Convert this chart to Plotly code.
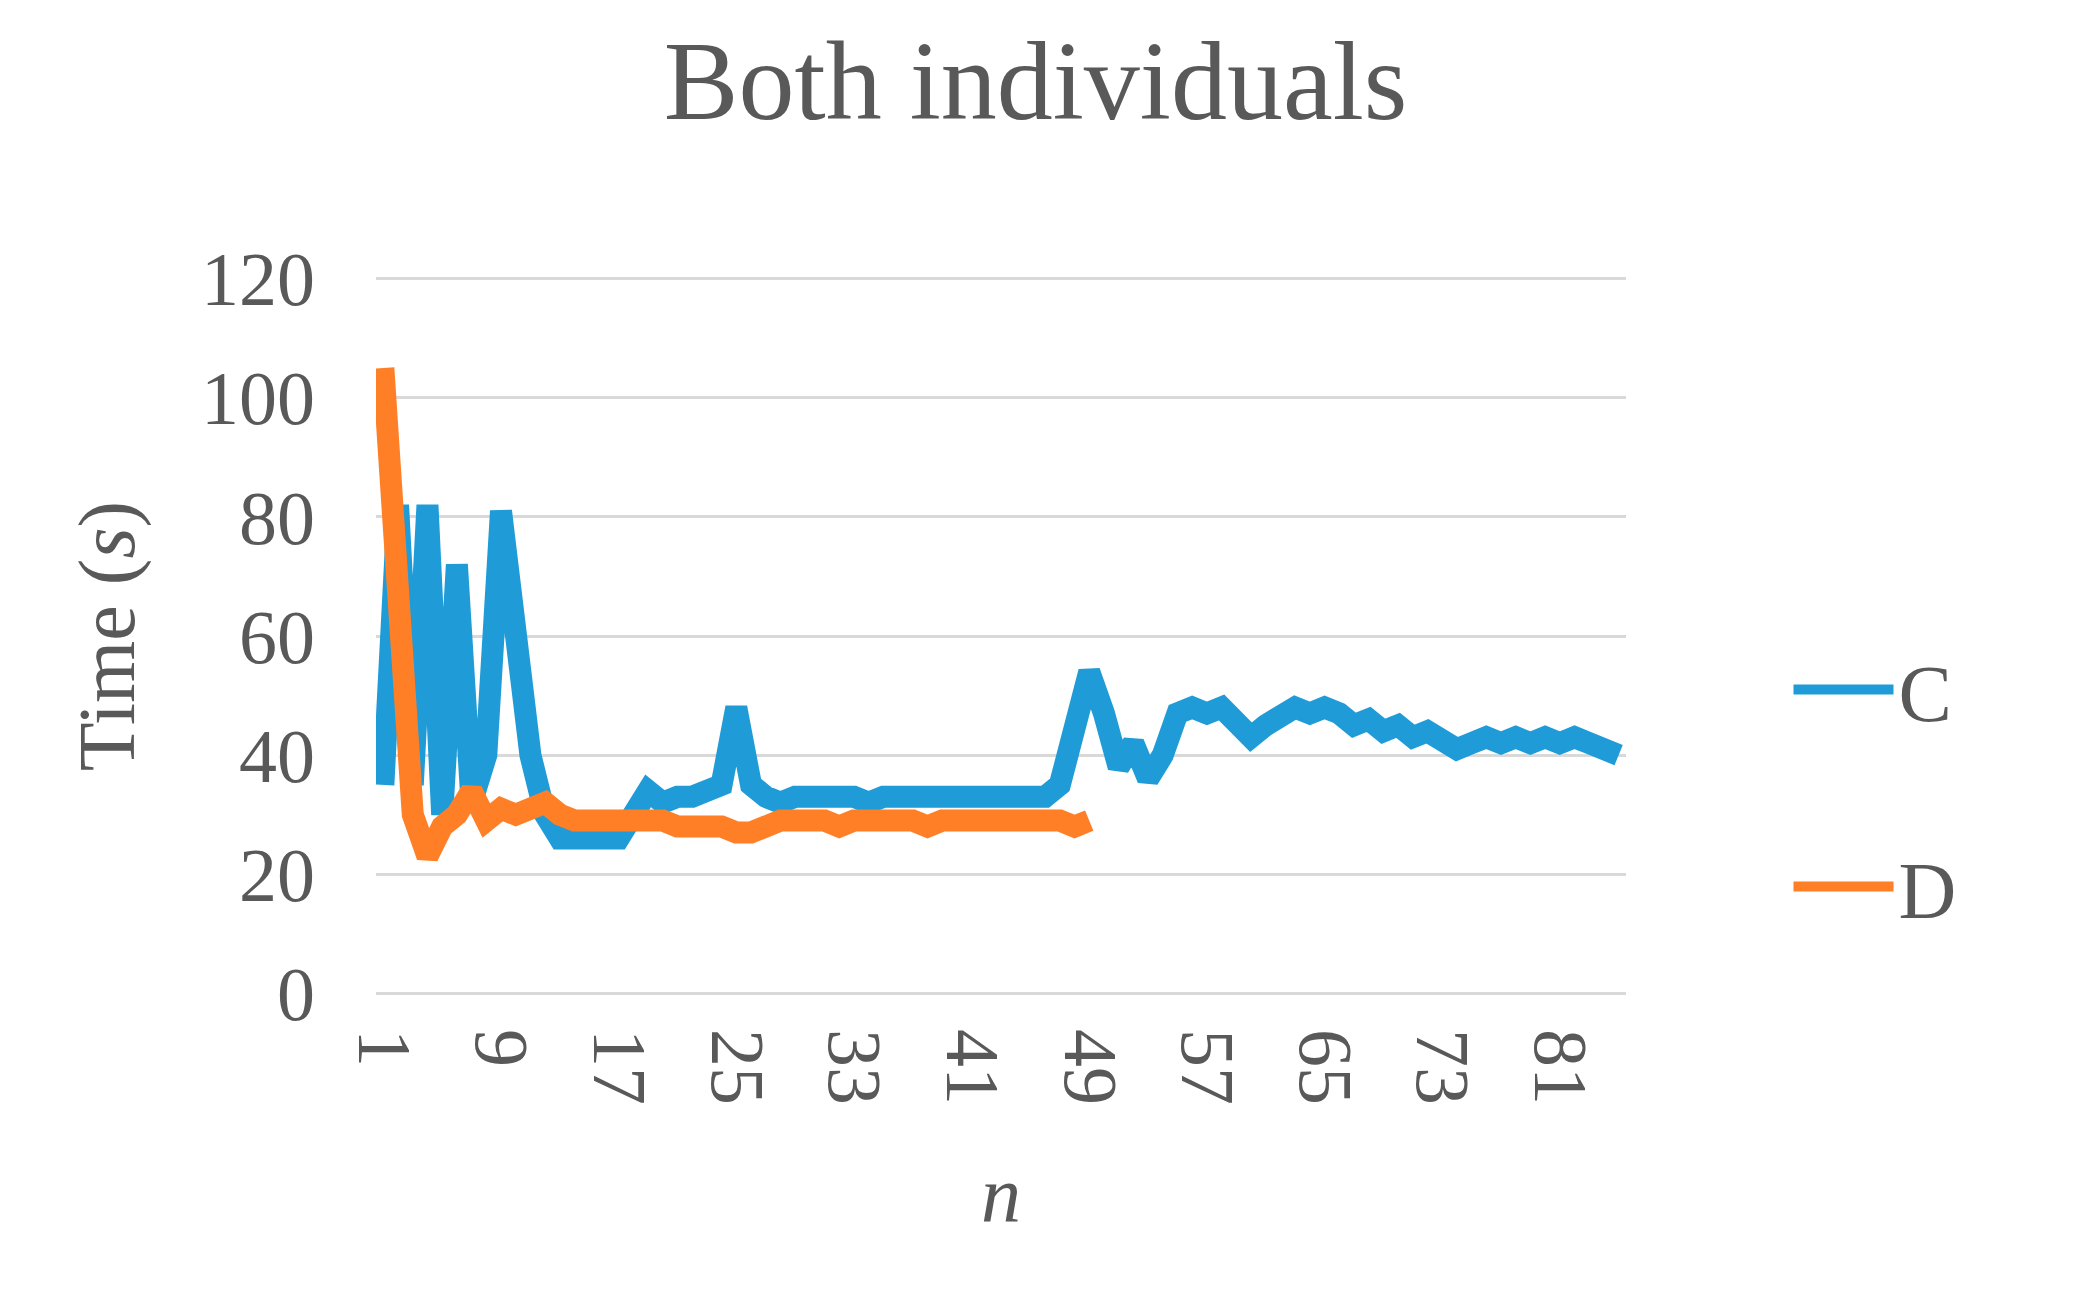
import plotly.graph_objects as go

n_c = list(range(1, 86))
c_vals = [35, 82, 35, 82, 30, 72, 32, 40, 81, 60, 40, 30, 26, 26, 26, 26, 26, 30, 34, 32,
          33, 33, 34, 35, 48, 35, 33, 32, 33, 33, 33, 33, 33, 32, 33, 33, 33, 33, 33, 33,
          33, 33, 33, 33, 33, 33, 35, 45, 54, 47, 38, 42, 36, 40, 47, 48, 47, 48, 46, 43,
          45, 47, 48, 47, 48, 47, 45, 46, 44, 45, 43, 44, 42, 41, 42, 43, 42, 43, 42, 43,
          42, 43, 42, 41, 40]
n_d = list(range(1, 50))
d_vals = [105, 60, 30, 23, 28, 30, 34, 29, 31, 30, 31, 32, 30, 29, 29, 29, 29, 29, 29, 29,
          28, 28, 28, 28, 27, 27, 28, 29, 29, 29, 29, 28, 29, 29, 29, 29, 29, 28, 29, 29,
          29, 29, 29, 29, 29, 29, 29, 28, 29]
tick_vals = [1, 9, 17, 25, 33, 41, 49, 57, 65, 73, 81]

font = "Liberation Serif"
grey = "#595959"
fig = go.Figure()
fig.add_trace(go.Scatter(x=n_c, y=c_vals, mode="lines", name="C", legendgroup="c",
                         line=dict(color="#1f9cd8", width=22)))
fig.add_trace(go.Scatter(x=n_d, y=d_vals, mode="lines", name="D", legendgroup="d",
                         line=dict(color="#ff7f27", width=22)))
fig.update_layout(
    width=2076, height=1296, paper_bgcolor="white", plot_bgcolor="white",
    margin=dict(l=368, r=458, t=266, b=306),
    font=dict(family=font, color=grey, size=76),
    title=dict(text="Both individuals", x=0.495, xanchor="center", y=0.975, yanchor="top",
               font=dict(size=112, color=grey)),
    legend=dict(x=1.13, y=0.29, yanchor="middle", xanchor="left", tracegroupgap=90,
                itemwidth=100, font=dict(size=80)),
    xaxis=dict(range=[0.5, 85.5], tickvals=tick_vals, tickangle=90, showgrid=False,
               zeroline=False, showline=False, ticks="", ticklabelstandoff=30,
               title=dict(text="<i>n</i>", font=dict(size=80), standoff=60)),
    yaxis=dict(range=[-0.8, 120.8], tickvals=[0, 20, 40, 60, 80, 100, 120],
               gridcolor="#d9d9d9", gridwidth=3, zeroline=False,
               ticks="", ticklabelstandoff=60,
               title=dict(text="Time (<i>s</i>)", font=dict(size=80), standoff=40)),
)
fig.write_html("out.html")
